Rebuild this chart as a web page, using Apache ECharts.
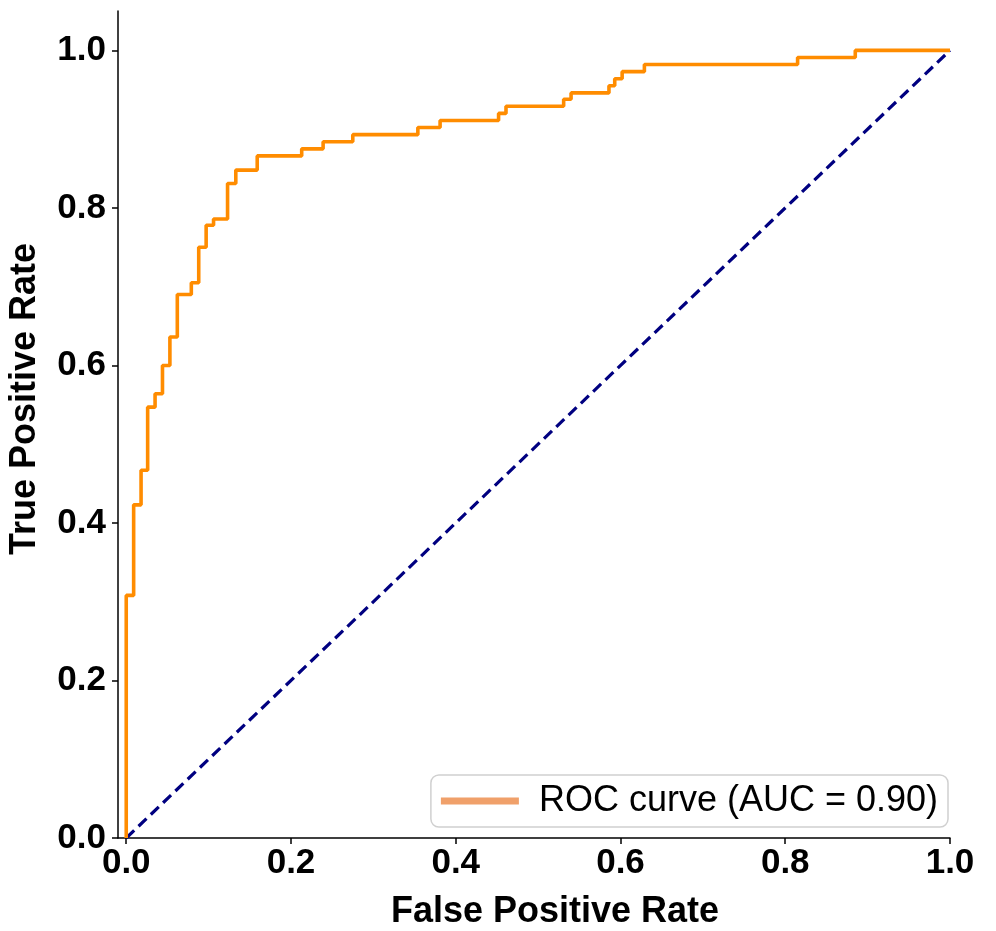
<!DOCTYPE html>
<html>
<head>
<meta charset="utf-8">
<script src="https://cdn.jsdelivr.net/npm/echarts@6/dist/echarts.min.js"></script>
<style>
html,body{margin:0;padding:0;background:#fff;}
#chart{width:996px;height:931px;}
</style>
</head>
<body>
<div id="chart"></div>
<script>
// ROC step points
const fpr = [0, 0, 0.009, 0.018, 0.026, 0.035, 0.044, 0.053, 0.062, 0.079, 0.088, 0.097, 0.106, 0.123, 0.133, 0.159, 0.213, 0.239, 0.275, 0.354, 0.381, 0.452, 0.461, 0.531, 0.540, 0.586, 0.593, 0.602, 0.629, 0.815, 0.885, 1.0];
const tpr = [0, 0.308, 0.423, 0.467, 0.547, 0.564, 0.600, 0.636, 0.690, 0.705, 0.750, 0.778, 0.786, 0.831, 0.848, 0.866, 0.875, 0.884, 0.893, 0.902, 0.911, 0.920, 0.929, 0.938, 0.946, 0.955, 0.964, 0.973, 0.982, 0.991, 1.0, 1.0];
const chanceX = [0, 1];
const chanceY = [0, 1];
const tickValues = [0, 0.2, 0.4, 0.6, 0.8, 1.0];
const seriesName = 'ROC curve (AUC = 0.90)';
const xTitle = 'False Positive Rate';
const yTitle = 'True Positive Rate';

const chart = echarts.init(document.getElementById('chart'), null, {renderer: 'canvas'});
const tickFont = {fontFamily: 'Liberation Sans', fontWeight: 'bold', fontSize: 35, color: '#000'};
chart.setOption({
  animation: false,
  backgroundColor: '#fff',
  grid: {left: 118, right: 46, top: 11, bottom: 93, containLabel: false},
  xAxis: {
    type: 'value', min: -0.01, max: 1.0,
    splitLine: {show: false},
    axisLine: {show: true, onZero: false, lineStyle: {color: '#000', width: 1.5}},
    axisTick: {show: true, length: 6, lineStyle: {color: '#000', width: 1.5}, customValues: tickValues},
    axisLabel: Object.assign({margin: 8, customValues: tickValues, formatter: v => v.toFixed(1)}, tickFont)
  },
  yAxis: {
    type: 'value', min: 0, max: 1.05,
    splitLine: {show: false},
    axisLine: {show: true, onZero: false, lineStyle: {color: '#000', width: 1.5}},
    axisTick: {show: true, length: 6, lineStyle: {color: '#000', width: 1.5}, customValues: tickValues},
    axisLabel: Object.assign({margin: 12, customValues: tickValues, formatter: v => v.toFixed(1)}, tickFont)
  },
  legend: {
    right: 48, bottom: 104,
    orient: 'horizontal',
    padding: [8, 10, 8, 10],
    borderColor: '#d0d0d0', borderWidth: 1.5, borderRadius: 8,
    backgroundColor: 'rgba(255,255,255,0.85)',
    itemWidth: 78, itemHeight: 7,
    textStyle: {fontFamily: 'Liberation Sans', fontSize: 36, color: '#000', padding: [0, 0, 0, 15]},
    data: [{name: seriesName, icon: 'rect', itemStyle: {color: '#F0A06A'}}]
  },
  graphic: [
    {type: 'text', x: 555, y: 912, style: {text: xTitle, font: 'bold 36px "Liberation Sans"', fill: '#000', textAlign: 'center', textVerticalAlign: 'middle'}},
    {type: 'text', x: 25, y: 399, rotation: Math.PI / 2, style: {text: yTitle, font: 'bold 36px "Liberation Sans"', fill: '#000', textAlign: 'center', textVerticalAlign: 'middle'}}
  ],
  series: [
    {
      name: seriesName, type: 'line', step: 'end', showSymbol: false,
      data: fpr.map((x, i) => [x, tpr[i]]),
      lineStyle: {color: '#FF8C00', width: 3.6},
      itemStyle: {color: '#FF8C00'},
      z: 3
    },
    {
      name: 'chance', type: 'line', showSymbol: false,
      data: chanceX.map((x, i) => [x, chanceY[i]]),
      lineStyle: {color: '#000080', width: 3.2, type: [11, 6]},
      itemStyle: {color: '#000080'},
      z: 2
    }
  ]
});
</script>
</body>
</html>
